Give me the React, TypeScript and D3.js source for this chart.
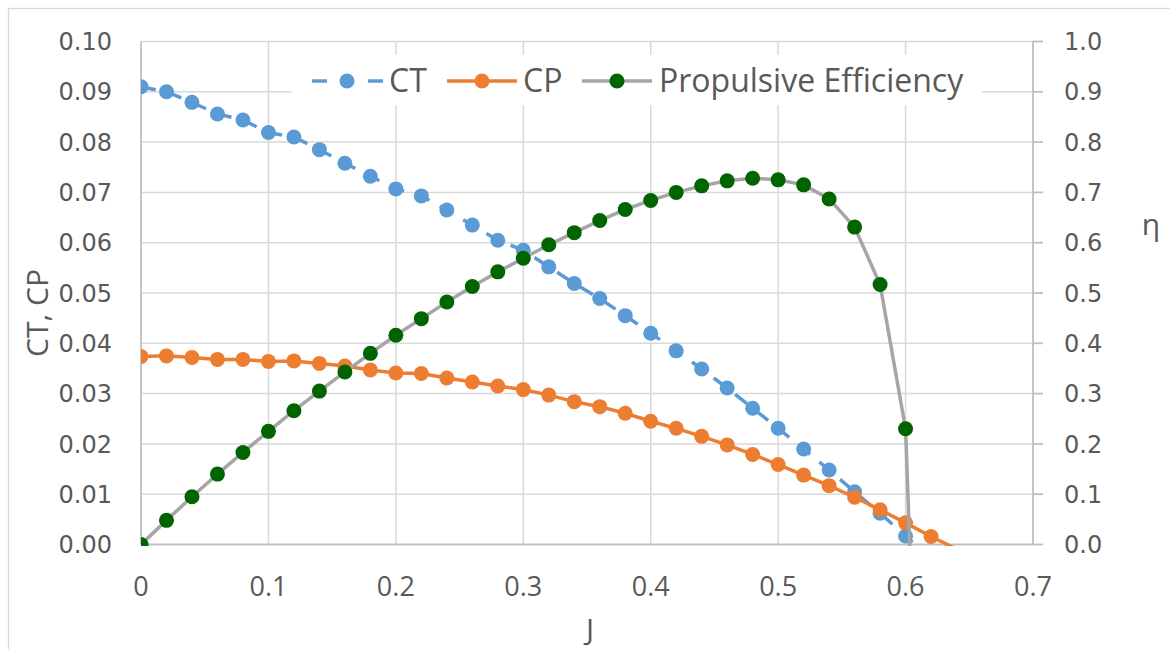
import React from "react";
import * as d3 from "d3";

const J = [0, 0.02, 0.04, 0.06, 0.08, 0.1, 0.12, 0.14, 0.16, 0.18, 0.2, 0.22, 0.24, 0.26, 0.28, 0.3, 0.32, 0.34, 0.36, 0.38, 0.4, 0.42, 0.44, 0.46, 0.48, 0.5, 0.52, 0.54, 0.56, 0.58, 0.6, 0.62, 0.64];

const CT = [0.091, 0.09, 0.0879, 0.0856, 0.0844, 0.0819, 0.081, 0.0785, 0.0758, 0.0732, 0.0707, 0.0693, 0.0665, 0.0635, 0.0605, 0.0585, 0.0552, 0.0519, 0.0489, 0.0455, 0.042, 0.0385, 0.0349, 0.0311, 0.0271, 0.0231, 0.019, 0.0148, 0.0105, 0.0062, 0.0017, -0.0028];

const CP = [0.0374, 0.0375, 0.0372, 0.0368, 0.0368, 0.0364, 0.0365, 0.036, 0.0355, 0.0347, 0.0341, 0.034, 0.0331, 0.0323, 0.0315, 0.0308, 0.0297, 0.0284, 0.0274, 0.0261, 0.0245, 0.0231, 0.0215, 0.0198, 0.0179, 0.0159, 0.0138, 0.0117, 0.0094, 0.0069, 0.0043, 0.0016, -0.0009];

const ETA = [0, 0.048, 0.095, 0.14, 0.183, 0.225, 0.266, 0.305, 0.343, 0.38, 0.416, 0.449, 0.482, 0.513, 0.542, 0.569, 0.596, 0.62, 0.644, 0.666, 0.684, 0.7, 0.713, 0.723, 0.728, 0.725, 0.715, 0.687, 0.631, 0.517, 0.23, -1.2];

const X_TICKS = [0, 0.1, 0.2, 0.3, 0.4, 0.5, 0.6, 0.7];
const X_LABELS = ["0", "0.1", "0.2", "0.3", "0.4", "0.5", "0.6", "0.7"];
const LEFT_TICKS = [0, 0.01, 0.02, 0.03, 0.04, 0.05, 0.06, 0.07, 0.08, 0.09, 0.1];
const RIGHT_TICKS = [0, 0.1, 0.2, 0.3, 0.4, 0.5, 0.6, 0.7, 0.8, 0.9, 1.0];

const SERIES_NAMES = ["CT", "CP", "Propulsive Efficiency"];

const W = 1170;
const H = 649;
const PL = 141;
const PR = 1033;
const PT = 41.5;
const PB = 544.5;

const BLUE = "#5B9BD5";
const ORANGE = "#ED7D31";
const GREY = "#A5A5A5";
const GREEN = "#006400";
const TEXT = "#595959";
const GRID = "#D9D9D9";
const AXIS = "#BFBFBF";

export default function App() {
  const x = d3.scaleLinear().domain([0, 0.7]).range([PL, PR]);
  const yL = d3.scaleLinear().domain([0, 0.1]).range([PB, PT]);
  const yR = d3.scaleLinear().domain([0, 1]).range([PB, PT]);

  const ctPts = CT.map((v, i) => [J[i], v] as [number, number]);
  const cpPts = CP.map((v, i) => [J[i], v] as [number, number]);
  const etaPts = ETA.map((v, i) => [J[i], v] as [number, number]);

  const lineL = d3.line<[number, number]>().x((d) => x(d[0])).y((d) => yL(d[1]));
  const lineR = d3.line<[number, number]>().x((d) => x(d[0])).y((d) => yR(d[1]));

  const fmtL = d3.format(".2f");
  const fmtR = d3.format(".1f");

  const R = 7.5;

  return (
    <div style={{ position: "fixed", left: 0, top: 0, width: W, height: H, background: "#fff" }}>
      <svg width={W} height={H} style={{ display: "block" }}>
        <defs>
          <clipPath id="plotClip">
            <rect x={PL} y={PT} width={PR - PL} height={PB - PT + 1.5} />
          </clipPath>
        </defs>
        <rect x={0} y={0} width={W} height={H} fill="#fff" />
        <rect x={8.5} y={8.5} width={W + 50} height={H + 50} fill="none" stroke={GRID} strokeWidth={1.3} />

        {/* horizontal gridlines */}
        {LEFT_TICKS.filter((t) => t > 0).map((t) => (
          <line key={"hg" + t} x1={PL} x2={PR} y1={yL(t)} y2={yL(t)} stroke={GRID} strokeWidth={1.5} />
        ))}
        {/* vertical gridlines */}
        {X_TICKS.filter((t) => t > 0 && t < 0.7).map((t) => (
          <line key={"vg" + t} x1={x(t)} x2={x(t)} y1={PT} y2={PB} stroke={GRID} strokeWidth={1.5} />
        ))}

        {/* axes */}
        <line x1={PL} x2={PL} y1={PT} y2={PB} stroke={AXIS} strokeWidth={1.8} />
        <line x1={PR} x2={PR} y1={PT} y2={PB} stroke={AXIS} strokeWidth={1.8} />
        <line x1={PL} x2={PR} y1={PB} y2={PB} stroke={AXIS} strokeWidth={1.8} />
        {RIGHT_TICKS.map((t) => (
          <line key={"rt" + t} x1={PR} x2={PR + 10} y1={yR(t)} y2={yR(t)} stroke={AXIS} strokeWidth={1.8} />
        ))}

        {/* left tick labels */}
        {LEFT_TICKS.map((t) => (
          <text key={"lt" + t} x={112} y={yL(t)} dy="0.36em" textAnchor="end" fontFamily="DejaVu Sans" fontSize={24} fill={TEXT}>
            {fmtL(t)}
          </text>
        ))}
        {/* right tick labels */}
        {RIGHT_TICKS.map((t) => (
          <text key={"rl" + t} x={1064} y={yR(t)} dy="0.36em" textAnchor="start" fontFamily="DejaVu Sans" fontSize={24} fill={TEXT}>
            {fmtR(t)}
          </text>
        ))}
        {/* x tick labels */}
        {X_TICKS.map((t, i) => (
          <text key={"xl" + t} x={x(t)} y={596} textAnchor="middle" fontFamily="Open Sans" fontSize={27} fill={TEXT}>
            {X_LABELS[i]}
          </text>
        ))}

        {/* axis titles */}
        <text x={590} y={640} textAnchor="middle" fontFamily="Open Sans" fontSize={30} fill={TEXT}>J</text>
        <text x={1151} y={235} textAnchor="middle" fontFamily="Open Sans" fontSize={30} fill={TEXT}>η</text>
        <text transform="translate(48,313) rotate(-90)" textAnchor="middle" fontFamily="Open Sans" fontSize={30} fill={TEXT}>CT, CP</text>

        {/* series */}
        <g clipPath="url(#plotClip)">
          <path d={lineL(ctPts) || ""} fill="none" stroke={BLUE} strokeWidth={3.5} strokeDasharray="15 12" />
          {ctPts.filter((d) => d[1] >= 0).map((d, i) => (
            <circle key={"ct" + i} cx={x(d[0])} cy={yL(d[1])} r={R} fill={BLUE} />
          ))}
          <path d={lineL(cpPts) || ""} fill="none" stroke={ORANGE} strokeWidth={3.5} />
          {cpPts.filter((d) => d[1] >= 0).map((d, i) => (
            <circle key={"cp" + i} cx={x(d[0])} cy={yL(d[1])} r={R} fill={ORANGE} />
          ))}
          <path d={lineR(etaPts) || ""} fill="none" stroke={GREY} strokeWidth={3.5} />
          {etaPts.filter((d) => d[1] >= 0).map((d, i) => (
            <circle key={"eta" + i} cx={x(d[0])} cy={yR(d[1])} r={R} fill={GREEN} />
          ))}
        </g>

        {/* legend */}
        <rect x={292} y={55} width={690} height={50} fill="#fff" />
        <g>
          <line x1={312} x2={327} y1={81} y2={81} stroke={BLUE} strokeWidth={3.5} />
          <line x1={368} x2={383} y1={81} y2={81} stroke={BLUE} strokeWidth={3.5} />
          <circle cx={347} cy={81} r={R} fill={BLUE} />
          <text x={389} y={92} fontFamily="Open Sans" fontSize={32} fill={TEXT}>{SERIES_NAMES[0]}</text>

          <line x1={447} x2={517} y1={81} y2={81} stroke={ORANGE} strokeWidth={3.5} />
          <circle cx={482} cy={81} r={R} fill={ORANGE} />
          <text x={523} y={92} fontFamily="Open Sans" fontSize={32} fill={TEXT}>{SERIES_NAMES[1]}</text>

          <line x1={582} x2={652} y1={81} y2={81} stroke={GREY} strokeWidth={3.5} />
          <circle cx={617} cy={81} r={R} fill={GREEN} />
          <text x={659} y={92} fontFamily="Open Sans" fontSize={32} fill={TEXT}>{SERIES_NAMES[2]}</text>
        </g>
      </svg>
    </div>
  );
}
